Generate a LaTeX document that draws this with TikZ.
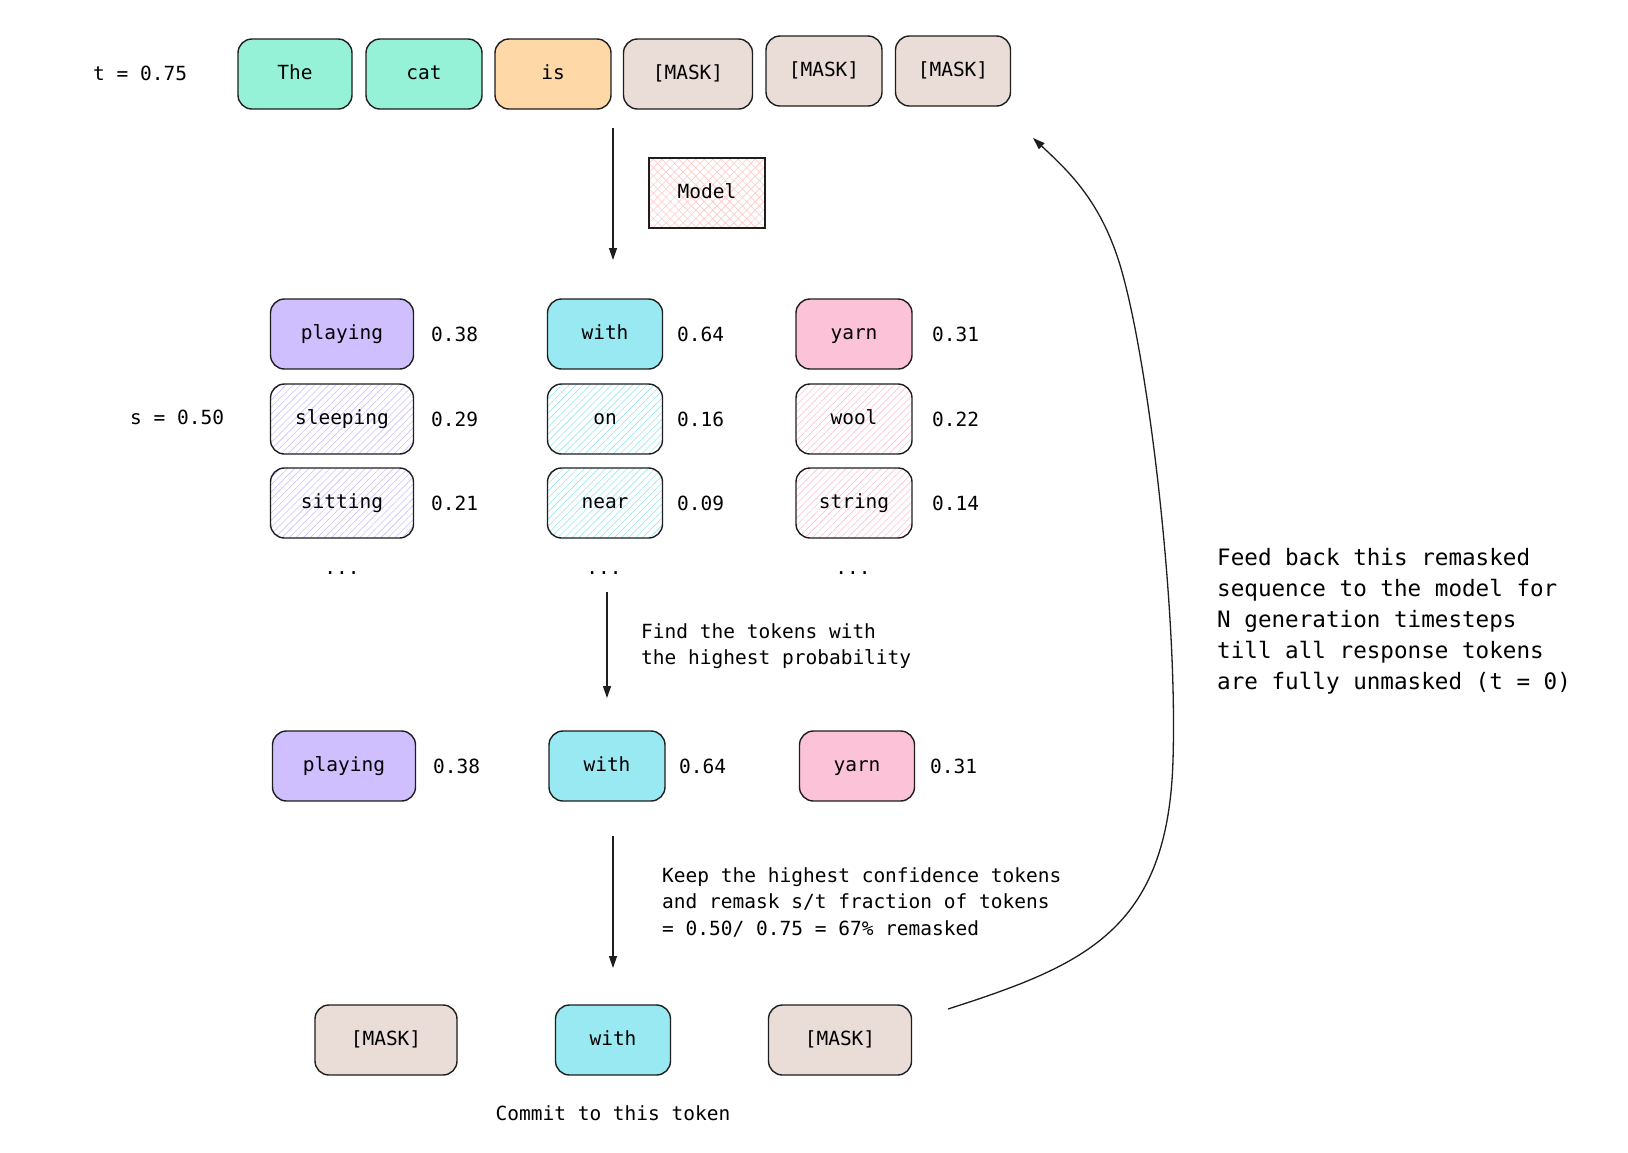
\documentclass[tikz,border=0pt]{standalone}
\usepackage{fontspec}
\setmainfont{DejaVu Sans Mono}
\usetikzlibrary{patterns.meta,arrows.meta}
\definecolor{ink}{HTML}{1E1E1E}
\definecolor{mint}{HTML}{96F2D7}
\definecolor{peach}{HTML}{FFD8A8}
\definecolor{maskc}{HTML}{EADDD7}
\definecolor{violetc}{HTML}{D0BFFF}
\definecolor{cyanc}{HTML}{99E9F2}
\definecolor{pinkc}{HTML}{FCC2D7}
\definecolor{redl}{HTML}{FFC9C9}
\tikzset{
  tok/.style={draw=ink, line width=1.4pt, rounded corners=14pt, minimum height=70pt,
    text height=14pt, text depth=4pt, font=\fontsize{19.5}{24}\selectfont, inner sep=0pt},
  solidtok/.style={tok, fill=#1},
  hatchtok/.style={tok, preaction={fill=white}, pattern={Lines[angle=45,distance=5pt,line width=0.6pt]}, pattern color=#1},
  lbl/.style={font=\fontsize{19.5}{24}\selectfont, inner sep=0pt, anchor=west},
  arr/.style={draw=ink, line width=1.3pt, -{Triangle[length=12pt,width=8pt]}},
}
\begin{document}
\begin{tikzpicture}[x=1pt,y=-1pt]
\useasboundingbox[fill=white] (0,0) rectangle (1628,1152);
% top row
\node[lbl] (tlab) at (93,73) {t = 0.75};
\node[solidtok=mint, minimum width=114pt] (the) at (295,74) {The};
\node[solidtok=mint, minimum width=116pt] (cat) at (424,74) {cat};
\node[solidtok=peach, minimum width=116pt] (is) at (553,74) {is};
\node[solidtok=maskc, minimum width=129pt] (m1) at (688,74) {[MASK]};
\node[solidtok=maskc, minimum width=116pt] (m2) at (824,71) {[MASK]};
\node[solidtok=maskc, minimum width=115pt] (m3) at (953,71) {[MASK]};
% model
\node[draw=ink, line width=1.4pt, preaction={fill=white}, minimum width=116pt, minimum height=70pt,
  text height=14pt, text depth=4pt, inner sep=0pt, font=\fontsize{19.5}{24}\selectfont,
  pattern={Hatch[angle=45,distance=6pt,line width=0.6pt]}, pattern color=redl] (model) at (707,193) {Model};
\coordinate (a1s) at (613,128);
\coordinate (a1e) at (613,260);
\draw[arr] (a1s) -- (a1e);
% candidates
\node[lbl] (slab) at (130,417) {s = 0.50};
\node[solidtok=violetc, minimum width=143pt] (c11) at (342,334) {playing};
\node[hatchtok=violetc, minimum width=143pt] (c12) at (342,419) {sleeping};
\node[hatchtok=violetc, minimum width=143pt] (c13) at (342,503) {sitting};
\node[solidtok=cyanc, minimum width=115pt] (c21) at (605,334) {with};
\node[hatchtok=cyanc, minimum width=115pt] (c22) at (605,419) {on};
\node[hatchtok=cyanc, minimum width=115pt] (c23) at (605,503) {near};
\node[solidtok=pinkc, minimum width=116pt] (c31) at (854,334) {yarn};
\node[hatchtok=pinkc, minimum width=116pt] (c32) at (854,419) {wool};
\node[hatchtok=pinkc, minimum width=116pt] (c33) at (854,503) {string};
\node[lbl] (p11) at (431,334) {0.38};
\node[lbl] (p12) at (431,419) {0.29};
\node[lbl] (p13) at (431,503) {0.21};
\node[lbl] (p21) at (677,334) {0.64};
\node[lbl] (p22) at (677,419) {0.16};
\node[lbl] (p23) at (677,503) {0.09};
\node[lbl] (p31) at (932,334) {0.31};
\node[lbl] (p32) at (932,419) {0.22};
\node[lbl] (p33) at (932,503) {0.14};
\node[lbl, anchor=center] (d1) at (342,573) {...};
\node[lbl, anchor=center] (d2) at (604,573) {...};
\node[lbl, anchor=center] (d3) at (853,573) {...};
% arrow 2
\coordinate (a2s) at (607,592);
\coordinate (a2e) at (607,698);
\draw[arr] (a2s) -- (a2e);
\node[lbl, align=left, font=\fontsize{19.5}{26}\selectfont] (find) at (641,646) {Find the tokens with\\the highest probability};
% selected
\node[solidtok=violetc, minimum width=143pt] (s1) at (344,766) {playing};
\node[solidtok=cyanc, minimum width=116pt] (s2) at (607,766) {with};
\node[solidtok=pinkc, minimum width=115pt] (s3) at (857,766) {yarn};
\node[lbl] (q1) at (433,766) {0.38};
\node[lbl] (q2) at (679,766) {0.64};
\node[lbl] (q3) at (930,766) {0.31};
% arrow 3
\coordinate (a3s) at (613,836);
\coordinate (a3e) at (613,968);
\draw[arr] (a3s) -- (a3e);
\node[lbl, align=left, font=\fontsize{19.5}{26.5}\selectfont] (keep) at (662,902) {Keep the highest confidence tokens\\and remask s/t fraction of tokens\\= 0.50/ 0.75 = 67\% remasked};
% final row
\node[solidtok=maskc, minimum width=142pt] (f1) at (386,1040) {[MASK]};
\node[solidtok=cyanc, minimum width=115pt] (f2) at (613,1040) {with};
\node[solidtok=maskc, minimum width=143pt] (f3) at (840,1040) {[MASK]};
\node[lbl, anchor=center] (commit) at (613,1113) {Commit to this token};
% feedback
\node[lbl, align=left, font=\fontsize{22.6}{31}\selectfont] (feed) at (1217,621) {Feed back this remasked\\sequence to the model for\\N generation timesteps\\till all response tokens\\are fully unmasked (t = 0)};
\coordinate (fbs) at (948,1009);
\coordinate (fbe) at (1033,138);
\draw[arr] (fbs) .. controls (1085,965) and (1168,930) .. (1173,760)
  .. controls (1178,600) and (1145,330) .. (1115,250)
  .. controls (1095,195) and (1065,168) .. (fbe);
\end{tikzpicture}
\end{document}
